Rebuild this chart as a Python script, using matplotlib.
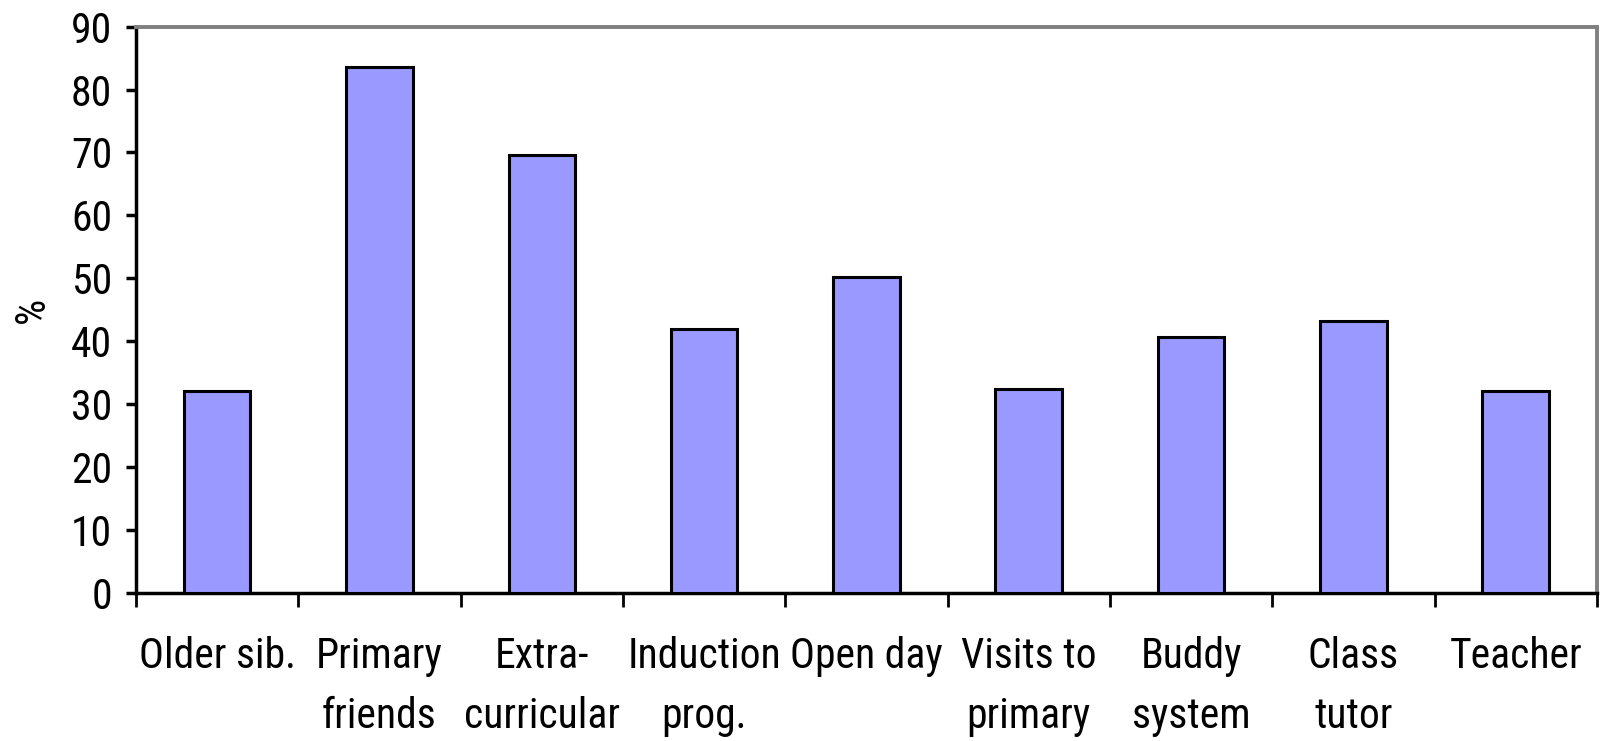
import matplotlib
matplotlib.use("Agg")
import matplotlib.pyplot as plt
from matplotlib.ticker import FixedLocator, NullFormatter
import numpy as np

categories = ["Older sib.", "Primary\nfriends", "Extra-\ncurricular", "Induction\nprog.",
              "Open day", "Visits to\nprimary", "Buddy\nsystem", "Class\ntutor", "Teacher"]
percent = [32, 83.6, 69.6, 42, 50.2, 32.4, 40.7, 43.2, 32]

# narrow sans, close to the Arial Narrow of the original
plt.rcParams['font.family'] = ['Roboto Condensed', 'Liberation Sans', 'DejaVu Sans']

fig = plt.figure(figsize=(16.09, 7.41), dpi=100)
ax = fig.add_axes([0.0845, 0.2001, 0.908, 0.7639])

x = np.arange(len(categories))
ax.bar(x, percent, width=0.41, color='#9999FF', edgecolor='black', linewidth=2.2, zorder=3)

ax.set_xlim(-0.5, len(categories) - 0.5)
ax.set_ylim(0, 90)
ax.set_yticks(np.arange(0, 91, 10))

# category labels centred, ticks on the boundaries
ax.set_xticks(x)
ax.set_xticklabels(categories, fontsize=30, linespacing=1.6, va='top')
ax.xaxis.set_minor_locator(FixedLocator(np.arange(-0.5, len(categories), 1.0)))
ax.xaxis.set_minor_formatter(NullFormatter())
ax.tick_params(axis='x', which='major', length=0, pad=31)
ax.tick_params(axis='x', which='minor', length=10, width=2, direction='out', color='black')
ax.tick_params(axis='y', length=7, width=2.5, direction='out', labelsize=30, pad=10)

ax.set_ylabel("%", fontsize=30)
ax.yaxis.set_label_coords(-0.057, 0.5)

for side in ('left', 'bottom'):
    ax.spines[side].set_linewidth(2.5)
    ax.spines[side].set_color('black')
for side in ('top', 'right'):
    ax.spines[side].set_linewidth(2.8)
    ax.spines[side].set_color('#808080')

fig.savefig("out.png", dpi=100, facecolor='white')
